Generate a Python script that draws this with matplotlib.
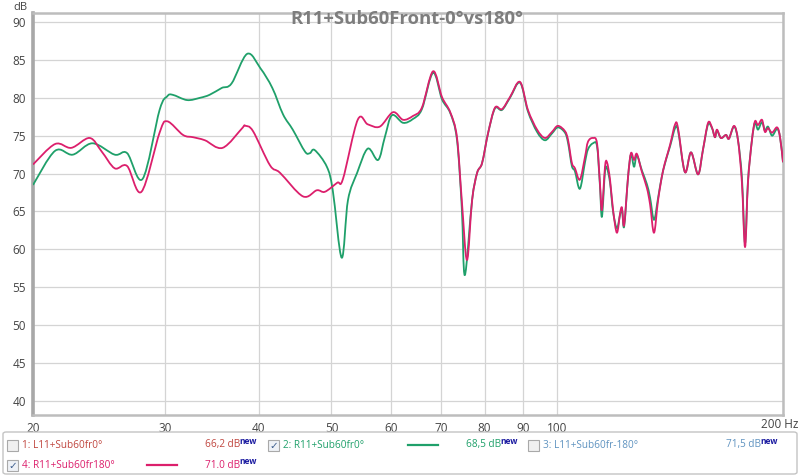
import matplotlib

matplotlib.use("Agg")
import matplotlib.pyplot as plt
import numpy as np
from matplotlib.patches import FancyBboxPatch, Rectangle, PathPatch
from matplotlib.path import Path
from matplotlib.lines import Line2D
from matplotlib.ticker import FixedLocator, NullLocator

plt.rcParams["font.family"] = ["Open Sans", "DejaVu Sans"]

# measurement 2: R11+Sub60fr0° (green)
freq_0 = [20.0, 21.4, 22.6, 24.0, 25.7, 26.7, 28.0, 29.5, 30.2, 30.7, 32.1, 33.4,
          34.4, 35.7, 36.8, 38.6, 40.2, 41.7, 43.1, 44.4, 46.1, 46.8, 47.5, 49.3,
          50.2, 51.6, 52.6, 54.1, 55.9, 57.7, 58.9, 60.2, 62.3, 64.2, 66.0, 68.3,
          70.2, 72.0, 73.5, 74.6, 75.3, 77.0, 78.2, 79.4, 80.9, 82.6, 84.4, 86.5,
          89.2, 91.4, 94.0, 96.3, 98.4, 100.2, 102.4, 103.4, 104.6, 105.6, 107.2,
          108.9, 109.9, 111.6, 113.0, 114.0, 114.7, 115.8, 116.5, 117.6, 118.7,
          120.1, 121.3, 122.0, 122.8, 124.3, 125.4, 126.6, 127.7, 129.7, 131.7,
          133.0, 134.6, 136.3, 138.4, 141.4, 143.6, 144.9, 148.0, 150.8, 154.1,
          156.4, 158.9, 160.8, 162.3, 163.3, 165.3, 167.9, 169.4, 172.1, 174.2,
          176.3, 178.0, 179.6, 181.8, 183.5, 185.2, 187.5, 189.2, 191.0, 193.4,
          196.4, 198.2, 200.0]
spl_0 = [68.5, 73.0, 72.5, 74.0, 72.5, 72.7, 69.3, 78.4, 80.2, 80.4, 79.7, 80.0,
         80.4, 81.3, 81.9, 85.8, 83.9, 81.3, 77.8, 75.8, 72.9, 72.7, 73.1, 70.9,
         67.8, 58.9, 66.5, 70.1, 73.3, 71.8, 74.8, 77.7, 76.7, 77.2, 78.5, 83.3,
         79.8, 78.0, 74.5, 65.5, 56.6, 66.5, 70.1, 71.4, 75.4, 78.6, 78.4, 80.0,
         82.0, 78.2, 75.5, 74.4, 75.3, 76.1, 75.4, 74.0, 71.0, 70.3, 68.0,
         71.5, 73.2, 74.0, 73.6, 68.5, 64.3, 70.3, 70.7, 68.8, 65.0,
         62.8, 64.6, 65.3, 63.0, 69.6, 72.5, 70.9, 72.4, 70.4, 68.6,
         66.8, 63.9, 66.8, 70.4, 73.6, 76.0, 75.7, 70.2, 72.8, 69.9,
         73.1, 76.5, 76.0, 74.8, 75.7, 74.7, 75.1, 74.6, 76.2, 74.4,
         69.5, 60.8, 69.0, 74.4, 76.7, 75.8, 76.8, 75.7, 76.2, 75.0,
         75.9, 74.8, 71.5]

# measurement 4: R11+Sub60fr180° (magenta)
freq_180 = [20.0, 21.4, 22.5, 23.8, 24.7, 25.7, 26.7, 27.9, 29.5, 30.2, 31.7, 32.7,
            33.9, 35.8, 38.1, 38.4, 39.3, 41.4, 42.7, 45.8, 47.8, 49.0, 50.9,
            51.8, 54.2, 55.9, 58.0, 60.4, 62.3, 64.2, 66.0, 68.3, 70.2, 72.0, 73.5,
            74.6, 75.8, 77.0, 78.2, 79.4, 80.9, 82.6, 84.4, 86.5, 89.2, 91.4, 94.0,
            96.3, 98.4, 100.2, 102.4, 103.4, 104.6, 105.6, 107.2, 108.9, 109.9,
            111.6, 113.0, 114.0, 114.7, 115.8, 116.5, 117.6, 118.7, 120.1, 121.3,
            122.0, 122.8, 124.3, 125.4, 126.6, 127.7, 129.7, 131.7, 133.0, 134.6,
            136.3, 138.4, 141.4, 143.6, 144.9, 148.0, 150.8, 154.1, 156.4, 158.9,
            160.8, 162.3, 163.3, 165.3, 167.9, 169.4, 172.1, 174.2, 176.3, 178.0,
            179.6, 181.8, 183.5, 185.2, 187.5, 189.2, 191.0, 193.4, 196.4, 198.2,
            200.0]
spl_180 = [71.2, 73.9, 73.4, 74.7, 72.9, 70.7, 71.0, 67.6, 75.4, 76.9, 75.1, 74.8,
           74.4, 73.4, 76.1, 76.3, 75.6, 71.1, 70.1, 67.0, 67.8, 67.6, 68.8,
           69.3, 77.1, 76.5, 76.2, 78.1, 77.1, 77.6, 78.7, 83.5, 80.1, 78.1, 74.8,
           66.5, 58.6, 66.5, 70.1, 71.4, 75.4, 78.7, 78.5, 80.1, 82.1, 78.4, 75.8,
           74.7, 75.5, 76.3, 75.6, 74.4, 71.4, 70.7, 69.2, 72.2, 74.2,
           74.7, 74.0, 68.8, 65.2, 70.9, 71.5, 69.2, 65.2, 62.2, 64.8,
           65.5, 63.2, 69.6, 72.7, 71.8, 72.6, 70.2, 68.1, 65.9, 62.2,
           66.5, 70.4, 73.8, 76.5, 76.0, 70.2, 72.8, 69.9, 73.1, 76.7,
           76.1, 74.8, 75.8, 74.7, 75.1, 74.6, 76.3, 74.4, 68.8, 60.3,
           68.8, 74.4, 76.9, 76.4, 77.1, 75.5, 76.0, 75.4, 76.1, 74.8,
           71.5]

x_ticks = [20, 30, 40, 50, 60, 70, 80, 90, 100, 200]
x_labels = ["20", "30", "40", "50", "60", "70", "80", "90", "100", ""]
y_ticks = [40, 45, 50, 55, 60, 65, 70, 75, 80, 85, 90]

# legend rows: (checked, label, level, colour, show line sample)
legend_items = [
    (False, "1: L11+Sub60fr0°", "66,2 dB", "#c0463f", False),
    (True, "2: R11+Sub60fr0°", "68,5 dB", "#1fa06a", True),
    (False, "3: L11+Sub60fr-180°", "71,5 dB", "#5f93c0", False),
    (True, "4: R11+Sub60fr180°", "71.0 dB", "#dc1f6c", True),
]

GREEN = "#1fa06a"
MAGENTA = "#dc1f6c"
W, H = 800, 476


def smooth_path(f, y):
    # Catmull-Rom curve through the measured points, built in log-frequency space
    u = np.log10(np.asarray(f, float))
    v = np.asarray(y, float)
    n = len(u)
    verts = [(f[0], v[0])]
    codes = [Path.MOVETO]
    for i in range(n - 1):
        i0, i3 = max(i - 1, 0), min(i + 2, n - 1)
        c1u = u[i] + (u[i + 1] - u[i0]) / 6
        c1v = v[i] + (v[i + 1] - v[i0]) / 6
        c2u = u[i + 1] - (u[i3] - u[i]) / 6
        c2v = v[i + 1] - (v[i3] - v[i]) / 6
        c1u = min(max(c1u, u[i]), u[i + 1])
        c2u = min(max(c2u, u[i]), u[i + 1])
        verts += [(10 ** c1u, c1v), (10 ** c2u, c2v), (f[i + 1], v[i + 1])]
        codes += [Path.CURVE4] * 3
    return Path(verts, codes)


fig = plt.figure(figsize=(8, 4.76), dpi=100)
ax = fig.add_axes([33 / W, 1 - 415 / H, 750 / W, 402 / H])

ax.set_xscale("log")
ax.set_xlim(20, 200)
ax.set_ylim(38.15, 91.19)
for fr, db, col, z in [(freq_0, spl_0, GREEN, 3), (freq_180, spl_180, MAGENTA, 4)]:
    ax.add_patch(PathPatch(smooth_path(fr, db), fc="none", ec=col, lw=1.3,
                           joinstyle="round", zorder=z))

ax.xaxis.set_major_locator(FixedLocator(x_ticks))
ax.xaxis.set_minor_locator(NullLocator())
ax.set_xticklabels(x_labels)
ax.set_yticks(y_ticks)
ax.tick_params(length=0, labelsize=8.5, labelcolor="#444444", pad=5)
ax.grid(True, color="#d4d4d4", lw=0.9)
ax.set_axisbelow(True)
for side in ["top", "right", "bottom"]:
    ax.spines[side].set_color("#bdbdbd")
    ax.spines[side].set_linewidth(1.8)
ax.spines["left"].set_color("#a8a8a8")
ax.spines["left"].set_linewidth(2.6)


def fp(x, y):
    return x / W, 1 - y / H


fig.text(*fp(407, 19), "R11+Sub60Front-0°vs180°", ha="center", va="center",
         fontsize=13.3, fontweight="bold", color="#7d7d7d", zorder=6)
fig.text(*fp(20, 7), "dB", fontsize=8, color="#444444", ha="center", va="center")
fig.text(*fp(798, 425), "200 Hz", fontsize=8.5, color="#444444", ha="right", va="center")

# legend panel
x0, y0 = fp(3, 474)
fig.patches.append(FancyBboxPatch((x0, y0), 794 / W, 42 / H,
                                  boxstyle="round,pad=0,rounding_size=0.004",
                                  transform=fig.transFigure, fc="white",
                                  ec="#c4c4c4", lw=1.0))

slots = [(7, 445), (268, 445), (528, 445), (7, 465)]
level_texts = []
for (chk, label, level, col, sample), (sx, sy) in zip(legend_items, slots):
    bx, by = fp(sx, sy + 6)
    fig.patches.append(Rectangle((bx, by), 11 / W, 11 / H, transform=fig.transFigure,
                                 fc="#eef1f6" if chk else "#f0f0f0", ec="#a9a9a9", lw=0.8))
    if chk:
        fig.text(*fp(sx + 5.5, sy + 0.5), "✓", fontsize=7.5, color="#3b5c8c", ha="center",
                 va="center", family="DejaVu Sans")
    fig.text(*fp(sx + 15, sy), label, fontsize=7.2, color=col, va="center")
    if sample:
        lx0, ly = fp(sx + 140, sy)
        lx1, _ = fp(sx + 170, sy)
        fig.lines.append(Line2D([lx0, lx1], [ly, ly], transform=fig.transFigure,
                                color=col, lw=1.6))
    t = fig.text(*fp(sx + 198, sy), level, fontsize=7.2, color=col, va="center")
    level_texts.append((t, sy))

fig.canvas.draw()
for t, sy in level_texts:
    bb = t.get_window_extent()
    fig.text(*fp(bb.x1 - 1, sy - 3), "new", fontsize=6, fontweight="bold",
             color="#1a1aa0", va="center")

fig.savefig("out.png", dpi=100)
